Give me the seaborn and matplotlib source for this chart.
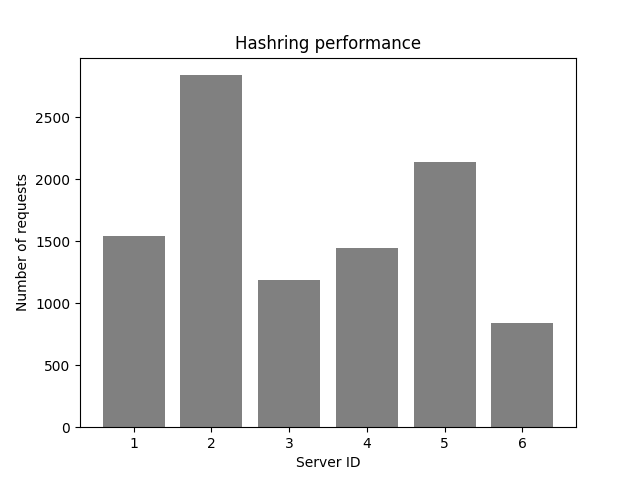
import matplotlib
matplotlib.use("Agg")
import matplotlib.pyplot as plt
import seaborn as sns
import pandas as pd

server_ids = ["1", "2", "3", "4", "5", "6"]
requests = [1540, 2840, 1185, 1445, 2137, 840]

df = pd.DataFrame({"Server ID": server_ids, "Number of requests": requests})

fig, ax = plt.subplots(figsize=(6.4, 4.8), dpi=100)
sns.barplot(data=df, x="Server ID", y="Number of requests", color="gray",
            saturation=1, width=0.8, ax=ax)
ax.set_xlim(-0.69, 5.69)
ax.set_title("Hashring performance")
ax.set_xlabel("Server ID")
ax.set_ylabel("Number of requests")
fig.savefig("out.png")
